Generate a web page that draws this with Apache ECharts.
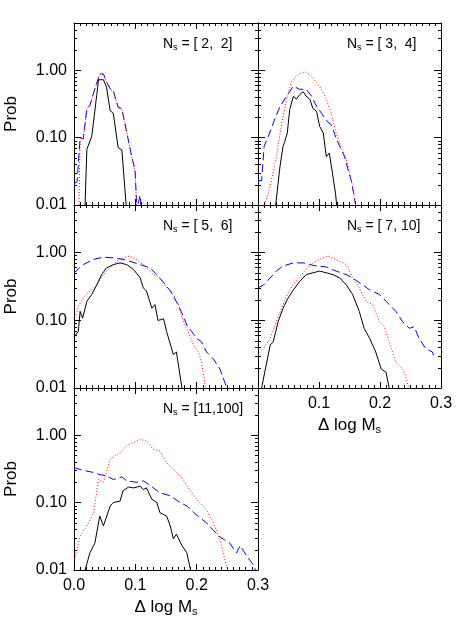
<!DOCTYPE html>
<html>
<head>
<meta charset="utf-8">
<script src="https://cdn.jsdelivr.net/npm/echarts@6.0.0/dist/echarts.min.js"></script>
<style>
  html, body { margin: 0; padding: 0; background: #fff; }
  #chart { width: 463px; height: 618px; }
</style>
</head>
<body>
<div id="chart"></div>
<script>
// panel labels (N_s ranges)
var panelRanges = ['[ 2,  2]', '[ 3,  4]', '[ 5,  6]', '[ 7, 10]', '[11,100]'];
var xTicks = [0, 0.1, 0.2, 0.3];
var yDecades = [0.01, 0.1, 1];

// [delta log Ms, prob]
var p1Black = [[0.018,0.01],[0.021,0.067],[0.029,0.105],[0.037,0.42],[0.040,0.72],[0.048,0.72],[0.053,0.56],[0.059,0.25],[0.064,0.23],[0.072,0.071],[0.078,0.066],[0.085,0.01]];
var p1Red = [[0.008,0.01],[0.010,0.10],[0.015,0.095],[0.021,0.26],[0.026,0.30],[0.034,0.52],[0.042,0.86],[0.048,0.86],[0.053,0.66],[0.059,0.52],[0.064,0.49],[0.072,0.28],[0.078,0.26],[0.086,0.12],[0.094,0.052],[0.0995,0.032],[0.102,0.01]];
var p1Blue = [[0,0.021],[0.005,0.022],[0.010,0.10],[0.015,0.095],[0.021,0.27],[0.026,0.30],[0.034,0.53],[0.042,0.88],[0.048,0.88],[0.053,0.67],[0.059,0.53],[0.064,0.50],[0.072,0.28],[0.078,0.27],[0.086,0.119],[0.094,0.053],[0.0995,0.033],[0.102,0.011],[0.104,0.01],[0.108,0.014],[0.109,0.01]];

var p2Black = [[0.029,0.01],[0.036,0.037],[0.041,0.074],[0.044,0.088],[0.048,0.117],[0.052,0.26],[0.058,0.41],[0.063,0.37],[0.068,0.43],[0.074,0.48],[0.079,0.41],[0.085,0.37],[0.090,0.27],[0.096,0.245],[0.101,0.147],[0.107,0.117],[0.112,0.052],[0.117,0.059],[0.123,0.026],[0.127,0.015],[0.129,0.01]];
var p2Red = [[0.011,0.01],[0.020,0.019],[0.030,0.052],[0.039,0.164],[0.047,0.37],[0.055,0.69],[0.068,0.89],[0.078,0.93],[0.085,0.86],[0.096,0.65],[0.104,0.52],[0.112,0.37],[0.120,0.23],[0.128,0.117],[0.136,0.074],[0.145,0.047],[0.150,0.03],[0.155,0.019],[0.160,0.01]];
var p2Blue = [[0,0.023],[0.006,0.023],[0.010,0.074],[0.017,0.104],[0.025,0.164],[0.036,0.29],[0.047,0.41],[0.058,0.58],[0.068,0.52],[0.079,0.52],[0.088,0.41],[0.096,0.29],[0.104,0.23],[0.112,0.18],[0.120,0.155],[0.129,0.093],[0.134,0.074],[0.142,0.052],[0.147,0.035],[0.153,0.023],[0.158,0.013],[0.160,0.01]];

var p3Black = [[0,0.057],[0.007,0.068],[0.010,0.135],[0.014,0.107],[0.021,0.19],[0.029,0.24],[0.037,0.33],[0.045,0.47],[0.053,0.59],[0.064,0.66],[0.075,0.70],[0.086,0.66],[0.097,0.56],[0.108,0.42],[0.113,0.30],[0.118,0.27],[0.127,0.15],[0.132,0.17],[0.137,0.099],[0.146,0.105],[0.151,0.068],[0.162,0.031],[0.167,0.034],[0.173,0.015],[0.176,0.01]];
var p3Red = [[0,0.11],[0.003,0.12],[0.007,0.16],[0.015,0.21],[0.026,0.27],[0.037,0.33],[0.048,0.47],[0.059,0.59],[0.070,0.74],[0.080,0.83],[0.091,0.89],[0.102,0.78],[0.118,0.62],[0.129,0.47],[0.140,0.42],[0.151,0.30],[0.159,0.27],[0.162,0.24],[0.170,0.17],[0.178,0.099],[0.186,0.068],[0.195,0.043],[0.203,0.034],[0.208,0.024],[0.212,0.015],[0.214,0.01]];
var p3Blue = [[0,0.50],[0.015,0.66],[0.032,0.79],[0.048,0.85],[0.064,0.83],[0.080,0.79],[0.091,0.74],[0.108,0.66],[0.124,0.59],[0.135,0.47],[0.146,0.36],[0.157,0.27],[0.168,0.18],[0.176,0.127],[0.184,0.085],[0.192,0.068],[0.200,0.054],[0.208,0.048],[0.216,0.034],[0.227,0.027],[0.238,0.019],[0.246,0.012],[0.249,0.01]];

var p4Black = [[0.006,0.01],[0.011,0.017],[0.020,0.043],[0.025,0.048],[0.033,0.095],[0.041,0.15],[0.049,0.21],[0.058,0.28],[0.068,0.37],[0.079,0.47],[0.090,0.50],[0.101,0.53],[0.112,0.50],[0.123,0.47],[0.134,0.42],[0.145,0.33],[0.155,0.24],[0.166,0.135],[0.174,0.076],[0.183,0.054],[0.193,0.034],[0.202,0.019],[0.210,0.017],[0.215,0.01]];
var p4Red = [[0,0.031],[0.009,0.038],[0.020,0.054],[0.030,0.095],[0.041,0.17],[0.049,0.25],[0.060,0.36],[0.074,0.50],[0.085,0.66],[0.096,0.74],[0.106,0.83],[0.115,0.89],[0.128,0.78],[0.145,0.66],[0.155,0.42],[0.166,0.30],[0.177,0.19],[0.188,0.17],[0.199,0.095],[0.207,0.081],[0.215,0.048],[0.226,0.024],[0.237,0.019],[0.242,0.015],[0.247,0.01]];
var p4Blue = [[0,0.30],[0.009,0.33],[0.020,0.42],[0.030,0.53],[0.041,0.63],[0.058,0.70],[0.074,0.70],[0.085,0.66],[0.096,0.63],[0.112,0.61],[0.128,0.53],[0.145,0.47],[0.155,0.42],[0.172,0.33],[0.183,0.28],[0.199,0.24],[0.210,0.19],[0.226,0.135],[0.237,0.095],[0.248,0.076],[0.256,0.08],[0.264,0.054],[0.275,0.038],[0.286,0.034],[0.289,0.027]];

var p5Black = [[0.018,0.01],[0.026,0.018],[0.034,0.025],[0.042,0.063],[0.048,0.045],[0.059,0.089],[0.064,0.10],[0.075,0.105],[0.080,0.15],[0.089,0.17],[0.097,0.165],[0.108,0.175],[0.113,0.155],[0.118,0.165],[0.127,0.112],[0.135,0.10],[0.140,0.071],[0.151,0.063],[0.157,0.045],[0.162,0.029],[0.167,0.034],[0.176,0.023],[0.184,0.018],[0.189,0.011],[0.190,0.01]];
var p5Red = [[0,0.013],[0.010,0.032],[0.021,0.045],[0.032,0.071],[0.040,0.22],[0.048,0.20],[0.059,0.44],[0.075,0.55],[0.086,0.70],[0.097,0.78],[0.108,0.87],[0.118,0.82],[0.129,0.62],[0.140,0.58],[0.151,0.39],[0.162,0.31],[0.173,0.25],[0.184,0.18],[0.195,0.127],[0.205,0.10],[0.216,0.079],[0.227,0.05],[0.238,0.028],[0.243,0.0185],[0.249,0.011],[0.252,0.01]];
var p5Blue = [[0,0.33],[0.015,0.30],[0.032,0.28],[0.042,0.26],[0.053,0.25],[0.064,0.22],[0.078,0.24],[0.086,0.21],[0.102,0.20],[0.113,0.21],[0.124,0.18],[0.140,0.14],[0.157,0.126],[0.173,0.10],[0.184,0.089],[0.195,0.071],[0.205,0.06],[0.216,0.05],[0.227,0.039],[0.238,0.031],[0.254,0.025],[0.265,0.018],[0.271,0.023],[0.282,0.016],[0.292,0.012],[0.296,0.01]];

var panelData = [
  [p1Black, p1Red, p1Blue],
  [p2Black, p2Red, p2Blue],
  [p3Black, p3Red, p3Blue],
  [p4Black, p4Red, p4Blue],
  [p5Black, p5Red, p5Blue]
];

// minor log ticks 2..9 per decade, up to the top of the axis
var minorY = [];
[0.01, 0.1, 1].forEach(function (d) {
  for (var k = 2; k <= 9; k++) {
    if (k * d < 5) minorY.push([0, +(k * d).toFixed(4)]);
  }
});

var grids = [
  { left: 74, top: 23, width: 184, height: 182 },
  { left: 258, top: 23, width: 183, height: 182 },
  { left: 74, top: 205, width: 184, height: 183 },
  { left: 258, top: 205, width: 183, height: 183 },
  { left: 74, top: 388, width: 184, height: 183 }
];

var FONT = 'Liberation Sans';
var lineCol = '#000';
var colors = ['#000000', '#ff0000', '#0000ff'];
var dashes = ['solid', [1, 2], [8, 4]];

var myChart = echarts.init(document.getElementById('chart'), null, { renderer: 'canvas' });

var xAxes = [], yAxes = [], series = [], graphics = [];

grids.forEach(function (g, i) {
  var hasXLabels = (i === 3 || i === 4);
  var leftCol = (i % 2 === 0);
  [ 'bottom', 'top' ].forEach(function (pos) {
    var bottom = pos === 'bottom';
    xAxes.push({
      type: 'value', gridIndex: i, position: pos,
      min: 0, max: 0.3, interval: 0.1,
      axisLine: { show: true, onZero: false, lineStyle: { color: lineCol, width: 1 } },
      axisTick: { show: true, inside: true, length: 6, lineStyle: { color: lineCol } },
      minorTick: { show: true, splitNumber: 10, length: 3, lineStyle: { color: lineCol } },
      splitLine: { show: false },
      axisLabel: {
        show: bottom && hasXLabels, margin: 8,
        fontFamily: FONT, fontSize: 16, color: '#000',
        formatter: function (v) {
          if (i === 3 && v === 0) return '';
          return v.toFixed(1);
        }
      },
      name: bottom && hasXLabels ? '{a|\u0394 log M}{b|s}' : '',
      nameLocation: 'middle', nameGap: 27,
      nameTextStyle: {
        fontFamily: FONT, color: '#000',
        rich: {
          a: { fontFamily: FONT, fontSize: 17, lineHeight: 20, color: '#000' },
          b: { fontFamily: FONT, fontSize: 11, lineHeight: 11, verticalAlign: 'bottom', color: '#000' }
        }
      }
    });
  });
  [ 'left', 'right' ].forEach(function (pos) {
    var left = pos === 'left';
    yAxes.push({
      type: 'log', logBase: 10, gridIndex: i, position: pos,
      min: 0.01, max: 5, interval: 1,
      axisLine: { show: true, onZero: false, lineStyle: { color: lineCol, width: 1 } },
      axisTick: { show: true, inside: true, length: 7, lineStyle: { color: lineCol } },
      splitLine: { show: false },
      axisLabel: {
        show: left && leftCol, margin: 7,
        fontFamily: FONT, fontSize: 16, color: '#000',
        showMaxLabel: false,
        formatter: function (v) {
          for (var k = 0; k < yDecades.length; k++) {
            if (Math.abs(v - yDecades[k]) < yDecades[k] * 1e-6) return yDecades[k].toFixed(2);
          }
          return '';
        }
      },
      name: left && leftCol ? 'Prob' : '',
      nameLocation: 'middle', nameGap: 54,
      nameTextStyle: { fontFamily: FONT, fontSize: 17, color: '#000' }
    });
  });

  panelData[i].forEach(function (d, j) {
    series.push({
      type: 'line', xAxisIndex: 2 * i, yAxisIndex: 2 * i,
      data: d, showSymbol: false, symbol: 'none', clip: true,
      animation: false, z: 3 - j,
      lineStyle: { color: colors[j], width: 1, type: dashes[j] }
    });
  });

  // minor log ticks on both sides of the panel
  series.push({
    type: 'custom', xAxisIndex: 2 * i, yAxisIndex: 2 * i,
    data: minorY, animation: false, silent: true, clip: false,
    renderItem: function (params, api) {
      var v = api.value(1);
      var l = api.coord([0, v]);
      var r = api.coord([0.3, v]);
      var y = Math.round(l[1]) + 0.5;
      var st = { stroke: lineCol, lineWidth: 1 };
      return {
        type: 'group', children: [
          { type: 'line', shape: { x1: l[0], y1: y, x2: l[0] + 3, y2: y }, style: st },
          { type: 'line', shape: { x1: r[0] - 3, y1: y, x2: r[0], y2: y }, style: st }
        ]
      };
    }
  });

  graphics.push({
    type: 'text', left: g.left + 89, top: g.top + 14,
    style: {
      text: '{n|N}{s|s}{n| = ' + panelRanges[i] + '}',
      rich: {
        n: { fontFamily: FONT, fontSize: 14, lineHeight: 16, fill: '#000' },
        s: { fontFamily: FONT, fontSize: 9, lineHeight: 9, verticalAlign: 'bottom', fill: '#000' }
      }
    }
  });
});

myChart.setOption({
  backgroundColor: '#fff',
  animation: false,
  grid: grids,
  xAxis: xAxes,
  yAxis: yAxes,
  series: series,
  graphic: graphics
});
</script>
</body>
</html>
